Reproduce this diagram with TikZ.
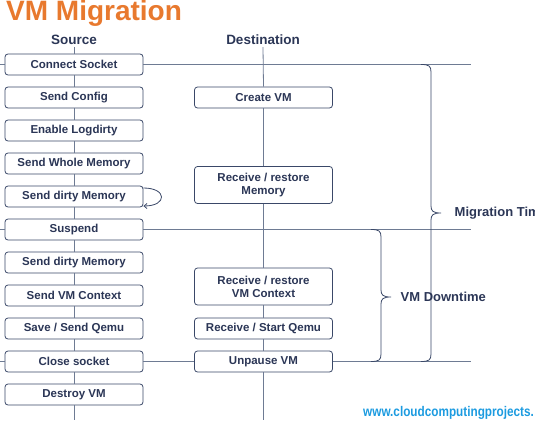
\documentclass[tikz,border=0pt]{standalone}
\usepackage{fontspec}
\setmainfont{Liberation Sans}
\newfontfamily\urlfont[FakeStretch=0.84]{Liberation Sans}
\usetikzlibrary{arrows.meta}
\definecolor{titlec}{HTML}{E8792E}
\definecolor{txtc}{HTML}{2B3656}
\definecolor{boxc}{HTML}{3A4868}
\definecolor{linec}{HTML}{6E7B93}
\definecolor{urlc}{HTML}{1C9BE0}
\tikzset{
  box/.style={draw=boxc, rounded corners=3pt, minimum width=138pt, minimum height=21pt,
    fill=white, text=txtc, font=\bfseries\fontsize{11.5}{13}\selectfont, line width=0.8pt,
    align=center, inner sep=0pt},
  tallbox/.style={box, minimum height=37pt},
  conn/.style={draw=linec, line width=0.8pt},
  brace/.style={draw=boxc, line width=0.8pt},
  head/.style={text=txtc, font=\bfseries\fontsize{13.5}{16}\selectfont, inner sep=0pt},
  lbl/.style={text=txtc, font=\bfseries\fontsize{13}{15}\selectfont, inner sep=0pt, anchor=west},
}
\begin{document}
\begin{tikzpicture}[x=1pt,y=-1pt]
\useasboundingbox (0,0) rectangle (535,420);
\clip (0,0) rectangle (535,420);
% title
\node[anchor=base west, inner sep=0pt, text=titlec, font=\bfseries\fontsize{28}{30}\selectfont] (title) at (6,21) {VM Migration};
% headings
\node[head] (src) at (74,40) {Source};
\node[head] (dst) at (263,40) {Destination};
% source boxes
\node[box] (s1) at (74,64.5) {Connect Socket};
\node[box] (s2) at (74,97.5) {Send Config};
\node[box] (s3) at (74,130.5) {Enable Logdirty};
\node[box] (s4) at (74,163.5) {Send Whole Memory};
\node[box] (s5) at (74,196.5) {Send dirty Memory};
\node[box] (s6) at (74,229.5) {Suspend};
\node[box] (s7) at (74,262.5) {Send dirty Memory};
\node[box] (s8) at (74,295.5) {Send VM Context};
\node[box] (s9) at (74,328.5) {Save / Send Qemu};
\node[box] (s10) at (74,361.5) {Close socket};
\node[box] (s11) at (74,394.5) {Destroy VM};
% destination boxes
\node[box] (d1) at (263.5,97.5) {Create VM};
\node[tallbox] (d2) at (263.5,185) {Receive / restore\\Memory};
\node[tallbox] (d3) at (263.5,286.5) {Receive / restore\\VM Context};
\node[box] (d4) at (263.5,328.5) {Receive / Start Qemu};
\node[box] (d5) at (263.5,361.5) {Unpause VM};
% coordinates
\coordinate (sbot) at (74,420);
\coordinate (dbot) at (263.5,420);
\coordinate (l1) at (0,64.5);
\coordinate (r1) at (471,64.5);
\coordinate (l2) at (0,229.5);
\coordinate (r2) at (471,229.5);
\coordinate (l3) at (0,361.5);
\coordinate (r3) at (471,361.5);
% source vertical chain
\draw[conn] (src.south) ++(0,-2pt) -- (s1.north);
\foreach \a/\b in {s1/s2,s2/s3,s3/s4,s4/s5,s5/s6,s6/s7,s7/s8,s8/s9,s9/s10,s10/s11}
  \draw[conn] (\a.south) -- (\b.north);
\draw[conn] (s11.south) -- (sbot);
% destination vertical chain
\draw[conn] (dst.south) ++(0,-2pt) -- (d1.north);
\foreach \a/\b in {d1/d2,d2/d3,d3/d4,d4/d5}
  \draw[conn] (\a.south) -- (\b.north);
\draw[conn] (d5.south) -- (dbot);
% horizontals
\draw[conn] (l1) -- (s1.west);
\draw[conn] (s1.east) -- (r1);
\draw[conn] (l2) -- (s6.west);
\draw[conn] (s6.east) -- (r2);
\draw[conn] (l3) -- (s10.west);
\draw[conn] (s10.east) -- (d5.west);
\draw[conn] (d5.east) -- (r3);
% loop arrow
\draw[draw=boxc, line width=0.8pt, -{Straight Barb[length=3pt,width=5pt]}]
  ([yshift=8.5pt]s5.east) .. controls +(24,0) and +(24,0) .. ([yshift=-9.5pt]s5.east);
% big brace
\draw[brace] (421,64.5) .. controls (429,64.5) and (431,66) .. (431,72)
  -- (431,206) .. controls (431,211) and (433,213) .. (441,213)
  .. controls (433,213) and (431,215) .. (431,220)
  -- (431,354) .. controls (431,360) and (429,361.5) .. (421,361.5);
% small brace
\draw[brace] (371,229.5) .. controls (379,229.5) and (381,231) .. (381,237)
  -- (381,290) .. controls (381,295) and (383,297) .. (391,297)
  .. controls (383,297) and (381,299) .. (381,304)
  -- (381,354) .. controls (381,360) and (379,361.5) .. (371,361.5);
% labels
\node[lbl] (mt) at (454.5,213) {Migration Time};
\node[lbl] (vd) at (400.5,297) {VM Downtime};
\node[anchor=base west, inner sep=0pt, text=urlc, font=\urlfont\bfseries\fontsize{14}{15}\selectfont] (url) at (363,416) {www.cloudcomputingprojects.};
\end{tikzpicture}
\end{document}
